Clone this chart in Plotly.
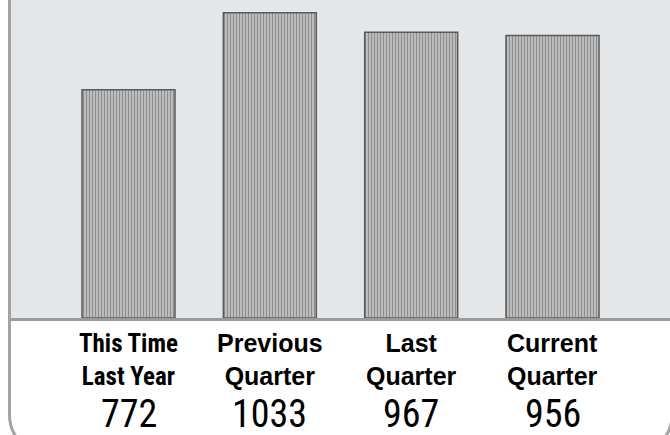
import plotly.graph_objects as go

categories = ["This Time Last Year", "Previous Quarter", "Last Quarter", "Current Quarter"]
label_lines = [["This Time", "Last Year"], ["Previous", "Quarter"], ["Last", "Quarter"], ["Current", "Quarter"]]
values = [772, 1033, 967, 956]

W, H = 670, 435
ML, MR, MT, MB = 10, 0, 0, 117
PW, PH = W - ML - MR, H - MT - MB


def px(x):
    return (x - ML) / PW


def py(y):
    return (H - MB - y) / PH


CONDENSED = "Roboto Condensed, Liberation Sans Narrow, Arial Narrow, sans-serif"
REGULAR = "Liberation Sans, Arial, Helvetica, sans-serif"
MAX_LABEL_CHARS = 8  # labels longer than this are set in the condensed face to fit under the bar

fig = go.Figure()
fig.add_trace(go.Bar(
    x=categories, y=values, width=0.658,
    marker=dict(
        color="#b4b4b4",
        line=dict(color="#5a5a5a", width=1.5),
        pattern=dict(shape="|", size=3, solidity=0.45, fgcolor="#8e8e8e", bgcolor="#c6c6c6", fillmode="replace"),
    ),
    hoverinfo="skip",
))

annotations = []
for cat, lines, v in zip(categories, label_lines, values):
    fam = CONDENSED if max(len(s) for s in lines) > MAX_LABEL_CHARS else REGULAR
    annotations.append(dict(
        x=cat, xref="x", y=py(327), yref="paper", yanchor="top", xanchor="center",
        text="<b>" + "<br>".join(lines) + "</b>", showarrow=False,
        font=dict(family=fam, size=25, color="#000000"),
    ))
    annotations.append(dict(
        x=cat, xref="x", y=py(390), yref="paper", yanchor="top", xanchor="center",
        text=str(v), showarrow=False,
        font=dict(family=CONDENSED, size=38, color="#000000"),
    ))

# left border with rounded bottom corner
r = 39
lx = 9.5
left_path = (f"M {px(lx)},{py(-5)} L {px(lx)},{py(415)} "
             f"C {px(lx)},{py(415 + 0.5523 * r)} {px(lx + r - 0.5523 * r)},{py(415 + r)} {px(lx + r)},{py(415 + r)}")
rx = 672
right_path = (f"M {px(rx)},{py(415)} "
              f"C {px(rx)},{py(415 + 0.5523 * r)} {px(rx - r + 0.5523 * r)},{py(415 + r)} {px(rx - r)},{py(415 + r)}")

shapes = [
    dict(type="path", xref="paper", yref="paper", path=left_path, line=dict(color="#a3a3a3", width=3), layer="above"),
    dict(type="path", xref="paper", yref="paper", path=right_path, line=dict(color="#a3a3a3", width=3), layer="above"),
]

fig.update_layout(
    width=W, height=H,
    margin=dict(l=ML, r=MR, t=MT, b=MB, pad=0),
    paper_bgcolor="#ffffff",
    plot_bgcolor="#e4e7ea",
    showlegend=False,
    annotations=annotations,
    shapes=shapes,
    xaxis=dict(
        type="category", range=[-0.8385, 3.8314], showticklabels=False, ticks="",
        showgrid=False, zeroline=False, showline=True, linecolor="#9b9b9b", linewidth=3,
        fixedrange=True,
    ),
    yaxis=dict(
        range=[0, 1076], visible=False, showgrid=False, zeroline=False, fixedrange=True,
    ),
)

fig.write_html(
    "out.html",
    config={"displayModeBar": False},
    post_script="document.body.style.margin='0';document.body.style.overflow='hidden';",
)
